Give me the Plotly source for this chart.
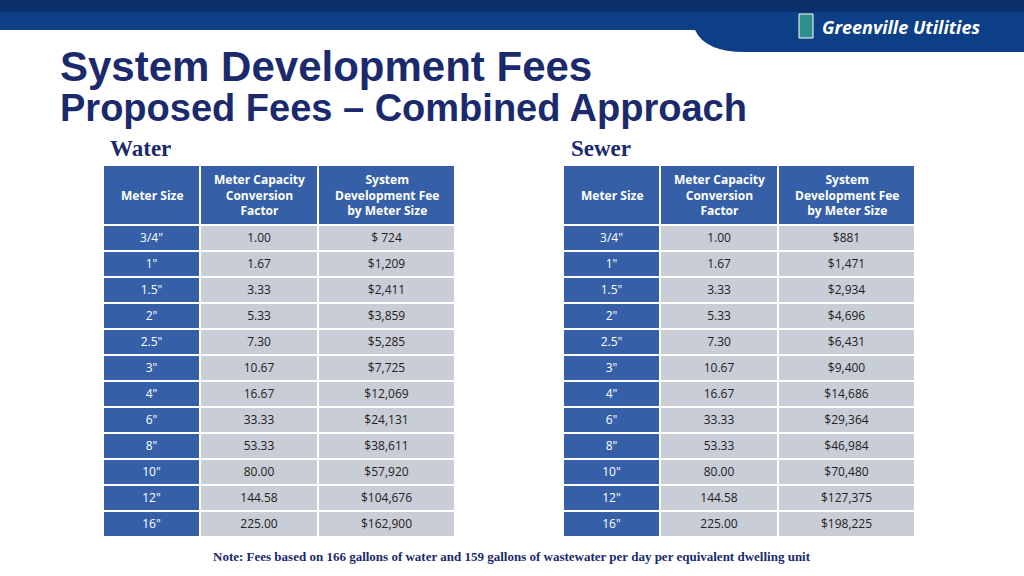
import plotly.graph_objects as go

sizes = ['3/4"', '1"', '1.5"', '2"', '2.5"', '3"', '4"', '6"', '8"', '10"', '12"', '16"']
factors = ["1.00", "1.67", "3.33", "5.33", "7.30", "10.67", "16.67", "33.33", "53.33", "80.00", "144.58", "225.00"]
water_fees = ["$ 724", "$1,209", "$2,411", "$3,859", "$5,285", "$7,725", "$12,069", "$24,131",
              "$38,611", "$57,920", "$104,676", "$162,900"]
sewer_fees = ["$881", "$1,471", "$2,934", "$4,696", "$6,431", "$9,400", "$14,686", "$29,364",
              "$46,984", "$70,480", "$127,375", "$198,225"]
headers = ["Meter Size", "Meter Capacity<br>Conversion<br>Factor", "System<br>Development Fee<br>by Meter Size"]

W, H = 1024, 576
NAVY = "#1a2a6c"
HEAD = "#3560a8"
GREY = "#c9cdd6"
COLW = [97, 118, 137]

fig = go.Figure()
ann = []


def add_table(x0, x1, fees):
    n = len(sizes)
    fig.add_trace(go.Table(
        domain=dict(x=[x0 / W, x1 / W], y=[1 - 540 / H, 1 - 165 / H]),
        columnwidth=COLW,
        header=dict(values=["", "", ""], height=60,
                    fill_color=HEAD, line=dict(color="white", width=2)),
        cells=dict(values=[sizes, factors, fees], height=26,
                   fill_color=[[HEAD] * n, [GREY] * n, [GREY] * n],
                   line=dict(color="white", width=2),
                   font=dict(family="Open Sans", size=12,
                             color=[["white"] * n, ["#222"] * n, ["#222"] * n]),
                   align="center"),
    ))
    left = x0
    scale = (x1 - x0) / sum(COLW)
    for w, txt in zip(COLW, headers):
        ann.append(dict(text="<b>%s</b>" % txt, x=(left + w * scale / 2) / W, y=1 - 195 / H,
                        xanchor="center", yanchor="middle", align="center", showarrow=False,
                        font=dict(family="Open Sans", size=12, color="white")))
        left += w * scale


add_table(103, 455, water_fees)
add_table(563, 915, sewer_fees)

shapes = [
    dict(type="path", xref="paper", yref="paper", layer="below",
         path=f"M0,1 L1,1 L1,{1-52/H} L{745/W},{1-52/H} Q{705/W},{1-52/H} {695/W},{1-30/H} L0,{1-30/H} Z",
         fillcolor="#0d3f86", line=dict(width=0)),
    dict(type="rect", xref="paper", yref="paper", x0=0, x1=1, y0=1 - 12 / H, y1=1,
         fillcolor="#0a2f6a", line=dict(width=0)),
    dict(type="rect", xref="paper", yref="paper", x0=799 / W, x1=813 / W, y0=1 - 38 / H, y1=1 - 14 / H,
         fillcolor="#2f8f8a", line=dict(color="white", width=1)),
]

ann += [
    dict(text="<b><i>Greenville Utilities</i></b>", x=820 / W, y=1 - 27 / H, xanchor="left", yanchor="middle",
         font=dict(family="Open Sans", size=18, color="white"), showarrow=False),
    dict(text="<b>System Development Fees</b>", x=58 / W, y=1 - 66 / H, xanchor="left", yanchor="middle",
         font=dict(family="Liberation Sans", size=42, color=NAVY), showarrow=False),
    dict(text="<b>Proposed Fees – Combined Approach</b>", x=58 / W, y=1 - 108 / H, xanchor="left", yanchor="middle",
         font=dict(family="Liberation Sans", size=38, color=NAVY), showarrow=False),
    dict(text="<b>Water</b>", x=108 / W, y=1 - 148 / H, xanchor="left", yanchor="middle",
         font=dict(family="Liberation Serif", size=23, color=NAVY), showarrow=False),
    dict(text="<b>Sewer</b>", x=569 / W, y=1 - 148 / H, xanchor="left", yanchor="middle",
         font=dict(family="Liberation Serif", size=23, color=NAVY), showarrow=False),
    dict(text="<b>Note: Fees based on 166 gallons of water and 159 gallons of wastewater per day per equivalent dwelling unit</b>",
         x=512 / W, y=1 - 556 / H, xanchor="center", yanchor="middle",
         font=dict(family="Liberation Serif", size=13, color=NAVY), showarrow=False),
]

fig.update_layout(width=W, height=H, margin=dict(l=0, r=0, t=0, b=0),
                  paper_bgcolor="white", plot_bgcolor="white",
                  shapes=shapes, annotations=ann, showlegend=False)
fig.update_xaxes(visible=False)
fig.update_yaxes(visible=False)
fig.write_html("out.html", config={"displayModeBar": False},
               post_script="document.body.style.margin='0';")
